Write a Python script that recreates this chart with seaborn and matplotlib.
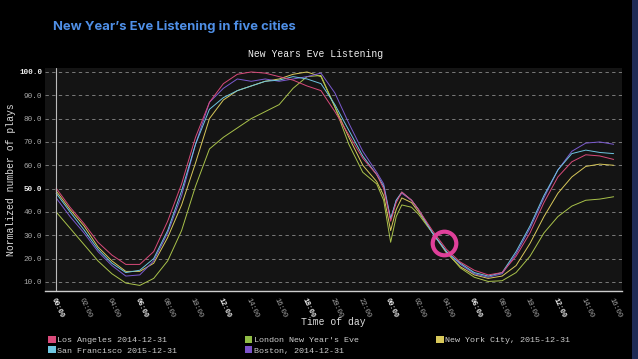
import matplotlib
matplotlib.use("Agg")
import matplotlib.pyplot as plt
import seaborn as sns
import pandas as pd
from matplotlib.patches import Patch, Rectangle

hours = [0, 1, 2, 3, 4, 5, 6, 7, 8, 9, 10, 11, 12, 13, 14, 15, 16, 17, 18, 19, 20,
         21, 22, 23, 23.5, 24, 24.4, 24.8, 25.5, 26, 27, 28, 29, 30, 31, 32, 33, 34,
         35, 36, 37, 38, 39, 40]

la = [50.2, 42, 35, 27, 21.5, 17.5, 17.5, 23, 36, 52, 72, 87, 95, 99, 100, 99.5, 98,
      96.5, 94, 92, 83, 73, 63, 56, 50, 36, 44, 48.5, 45, 41, 32, 24, 18.5, 15, 13,
      14, 21, 31, 44, 55, 61.5, 64.5, 64, 62.5]
sf = [48, 40, 32.3, 24, 18, 14, 15, 20, 32, 49, 69, 84, 89, 92, 94, 96, 96.5, 98, 97,
      95, 86, 75, 64, 56, 51, 37, 45, 48.5, 45, 41, 31, 23, 18, 14, 12.5, 14, 23, 34,
      47, 58, 65, 66.5, 65.5, 65]
boston = [46, 38, 31, 23, 17, 12.5, 13, 19, 31, 47, 69, 87, 93, 97, 96, 97, 96, 97,
          98, 99.5, 91, 78, 66, 57, 52, 37, 45, 48, 45, 41, 31, 23, 17.5, 13.5, 12,
          13.5, 22, 33, 46, 58, 66, 69.5, 70, 69]
nyc = [49, 41, 34, 25, 19, 14.5, 14.5, 18, 29, 43, 61, 80, 88, 92, 94, 96, 97, 99,
       100, 98, 85, 72, 60, 53, 47, 32, 41, 46, 44, 40, 31, 22.5, 16.5, 13, 11.5, 12.5,
       17, 26.5, 38, 48, 55, 59.5, 60.5, 60]
london = [40, 33, 26, 19, 13.5, 9.5, 8.5, 11.5, 19, 32, 51, 67, 72, 76, 80, 83, 86,
          93, 98, 98.5, 85, 69, 57, 52, 45, 27, 38, 43, 42, 39, 31, 23, 16, 12, 10.2,
          10.5, 14, 21, 31, 38, 42.5, 45, 45.5, 46.5]

names = ["Los Angeles 2014-12-31", "San Francisco 2015-12-31",
         "London New Year's Eve", "Boston, 2014-12-31", "New York City, 2015-12-31"]
series = [la, sf, london, boston, nyc]
colors = ["#d94a7a", "#6ec5e0", "#a9c24a", "#7b5ad0", "#d8c85a"]
legend_colors = ["#d94a7a", "#6ec5e0", "#8fbc45", "#7b52c9", "#d8c85a"]

tick_hours = list(range(0, 41, 2))
tick_labels = [f"{h % 24:02d}:00" for h in tick_hours]
y_ticks = [10, 20, 30, 40, 50, 60, 70, 80, 90, 100]

rows = []
for n, s in zip(names, series):
    for h, v in zip(hours, s):
        rows.append({"hour": h, "plays": v, "city": n})
df = pd.DataFrame(rows)

sns.set_theme(style="dark")
mono = ["Liberation Mono", "DejaVu Sans Mono"]
plt.rcParams["font.family"] = mono

fig = plt.figure(figsize=(6.38, 3.59), dpi=100, facecolor="black")
ax = fig.add_axes([45 / 638, 1 - 291 / 359, 577 / 638, 223 / 359])
ax.set_facecolor("#141414")

draw_order = [names[4], names[2], names[3], names[1], names[0]]
pal = dict(zip(names, colors))
for n in draw_order:
    sub = df[df.city == n]
    sns.lineplot(data=sub, x="hour", y="plays", color=pal[n], lw=0.7, ax=ax,
                 legend=False)

ax.axvline(0, color="#bbbbbb", lw=0.8)
ax.plot([27.8], [26.7], marker="o", ms=17, mfc="none", mec="#e0409a", mew=3)

ax.set_xlim(-0.8, 40.6)
ax.set_ylim(6.1, 101.7)
ax.set_yticks(y_ticks)
ax.set_yticklabels([f"{v:.1f}" for v in y_ticks])
ax.yaxis.grid(True, color="#8a8a8a", ls=(0, (4, 4)), lw=0.6)
ax.xaxis.grid(False)
ax.set_xticks(tick_hours)
ax.set_xticklabels(tick_labels)
for lab, h in zip(ax.get_xticklabels(), tick_hours):
    lab.set_rotation(-65)
    lab.set_ha("left")
    lab.set_va("top")
    lab.set_rotation_mode("anchor")
    lab.set_fontsize(5)
    if h % 6 == 0:
        lab.set_fontweight("bold")
        lab.set_color("#f0f0f0")
    else:
        lab.set_color("#aaaaaa")
for lab, v in zip(ax.get_yticklabels(), y_ticks):
    lab.set_fontsize(5.5)
    lab.set_color("#f0f0f0" if v in (50, 100) else "#aaaaaa")
    if v in (50, 100):
        lab.set_fontweight("bold")
ax.tick_params(axis="both", length=0, pad=2)
ax.tick_params(axis="x", pad=4)

for side in ["left", "right", "top"]:
    ax.spines[side].set_visible(False)
ax.spines["bottom"].set_color("#cccccc")
ax.spines["bottom"].set_linewidth(1.0)

ax.set_xlabel("Time of day", fontsize=7, color="#dddddd")
ax.xaxis.set_label_coords(0.5, -0.115)
ax.set_ylabel("Normalized number of plays", fontsize=7, color="#dddddd")
ax.yaxis.set_label_coords(-0.05, 0.5)

fig.text(316 / 638, 1 - 54 / 359, "New Years Eve Listening", ha="center",
         va="center", fontsize=7, color="#eeeeee", family=mono)
fig.text(53 / 638, 1 - 27 / 359, "New Year\u2019s Eve Listening in five cities",
         ha="left", va="center", fontsize=9.4, fontweight="bold",
         color="#4f8fe6", family=["Inter", "DejaVu Sans"])

leg_kw = dict(loc="upper left", frameon=False, fontsize=6, handlelength=0.9,
              handleheight=0.9, handletextpad=0.2, labelspacing=0.25,
              borderaxespad=0, borderpad=0)
handles = [Patch(facecolor=c, edgecolor="none") for c in legend_colors]
leg1 = fig.legend(handles[:4], names[:4], ncol=2, columnspacing=8.1,
                  bbox_to_anchor=(48 / 638, 1 - 336 / 359), **leg_kw)
leg2 = fig.legend(handles[4:], names[4:], ncol=1,
                  bbox_to_anchor=(436 / 638, 1 - 336 / 359), **leg_kw)
for lg in (leg1, leg2):
    for t in lg.get_texts():
        t.set_color("#cccccc")

fig.patches.append(Rectangle((632 / 638, 0), 6 / 638, 1, transform=fig.transFigure,
                             facecolor="#1e2a55", edgecolor="none"))

fig.savefig("out.png", dpi=100, facecolor="black")
